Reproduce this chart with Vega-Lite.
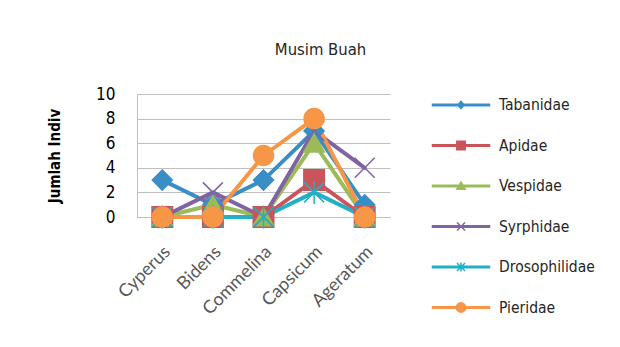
{
  "$schema": "https://vega.github.io/schema/vega-lite/v6.json",
  "width": 253,
  "height": 123,
  "autosize": {"type": "none"},
  "padding": {"left": 137, "top": 94, "right": 230, "bottom": 130},
  "background": "white",
  "config": {
    "view": {"stroke": null},
    "font": "DejaVu Sans Condensed, Roboto, sans-serif",
    "legend": {
      "title": null,
      "orient": "right",
      "offset": 60,
      "padding": 0,
      "symbolSize": 400,
      "symbolStrokeWidth": 1.5,
      "symbolOpacity": 1,
      "rowPadding": 20.5,
      "labelOffset": 27,
      "labelFont": "DejaVu Sans Condensed, Roboto, sans-serif",
      "labelFontSize": 15.5,
      "labelColor": "#262626"
    }
  },
  "title": {
    "text": "Musim Buah",
    "anchor": "middle",
    "frame": "group",
    "dx": 57,
    "offset": 27,
    "fontSize": 16.5,
    "fontWeight": "normal",
    "font": "DejaVu Sans Condensed, Roboto, sans-serif",
    "color": "#262626"
  },
  "data": {
    "values": [
      {"family": "Tabanidae", "plant": "Cyperus", "count": 3},
      {"family": "Tabanidae", "plant": "Bidens", "count": 1},
      {"family": "Tabanidae", "plant": "Commelina", "count": 3},
      {"family": "Tabanidae", "plant": "Capsicum", "count": 7},
      {"family": "Tabanidae", "plant": "Ageratum", "count": 1},
      {"family": "Apidae", "plant": "Cyperus", "count": 0},
      {"family": "Apidae", "plant": "Bidens", "count": 0},
      {"family": "Apidae", "plant": "Commelina", "count": 0},
      {"family": "Apidae", "plant": "Capsicum", "count": 3},
      {"family": "Apidae", "plant": "Ageratum", "count": 0},
      {"family": "Vespidae", "plant": "Cyperus", "count": 0},
      {"family": "Vespidae", "plant": "Bidens", "count": 1},
      {"family": "Vespidae", "plant": "Commelina", "count": 0},
      {"family": "Vespidae", "plant": "Capsicum", "count": 6},
      {"family": "Vespidae", "plant": "Ageratum", "count": 0},
      {"family": "Syrphidae", "plant": "Cyperus", "count": 0},
      {"family": "Syrphidae", "plant": "Bidens", "count": 2},
      {"family": "Syrphidae", "plant": "Commelina", "count": 0},
      {"family": "Syrphidae", "plant": "Capsicum", "count": 7},
      {"family": "Syrphidae", "plant": "Ageratum", "count": 4},
      {"family": "Drosophilidae", "plant": "Cyperus", "count": 0},
      {"family": "Drosophilidae", "plant": "Bidens", "count": 0},
      {"family": "Drosophilidae", "plant": "Commelina", "count": 0},
      {"family": "Drosophilidae", "plant": "Capsicum", "count": 2},
      {"family": "Drosophilidae", "plant": "Ageratum", "count": 0},
      {"family": "Pieridae", "plant": "Cyperus", "count": 0},
      {"family": "Pieridae", "plant": "Bidens", "count": 0},
      {"family": "Pieridae", "plant": "Commelina", "count": 5},
      {"family": "Pieridae", "plant": "Capsicum", "count": 8},
      {"family": "Pieridae", "plant": "Ageratum", "count": 0}
    ]
  },
  "encoding": {
    "x": {
      "field": "plant",
      "type": "nominal",
      "sort": ["Cyperus", "Bidens", "Commelina", "Capsicum", "Ageratum"],
      "axis": {
        "title": null,
        "labelAngle": -45,
        "labelAlign": "right",
        "labelBaseline": "middle",
        "labelFont": "Lato",
        "labelFontSize": 18,
        "labelColor": "#595959",
        "labelPadding": 32,
        "labelOffset": 5,
        "ticks": false,
        "grid": false,
        "domainColor": "#BFBFBF",
        "domainWidth": 1
      }
    },
    "y": {
      "field": "count",
      "type": "quantitative",
      "scale": {"domain": [0, 10], "nice": false},
      "axis": {
        "title": "Jumlah Indiv",
        "values": [0, 2, 4, 6, 8, 10],
        "ticks": false,
        "labelPadding": 22,
        "labelFont": "DejaVu Sans Condensed, Roboto, sans-serif",
        "labelFontSize": 17,
        "labelColor": "#000000",
        "gridColor": "#BFBFBF",
        "domainColor": "#BFBFBF",
        "titleFont": "DejaVu Sans Condensed, Roboto, sans-serif",
        "titleFontWeight": "bold",
        "titleFontSize": 15,
        "titleColor": "#000000",
        "titlePadding": 33
      }
    },
    "stroke": {
      "field": "family",
      "type": "nominal",
      "scale": {
        "domain": ["Tabanidae", "Apidae", "Vespidae", "Syrphidae", "Drosophilidae", "Pieridae"],
        "range": ["#3a8ec6", "#c9555a", "#9bbb59", "#8064a2", "#23afc6", "#f79646"]
      }
    }
  },
  "layer": [
    {
      "mark": {"type": "line", "strokeWidth": 4, "strokeJoin": "round", "strokeCap": "round"}
    },
    {
      "transform": [{"filter": "datum.family === 'Tabanidae'"}],
      "mark": {"type": "point", "shape": "diamond", "opacity": 1, "strokeWidth": 1.5, "size": 400},
      "encoding": {
        "fill": {
          "field": "family",
          "type": "nominal",
          "scale": {
            "domain": ["Tabanidae", "Apidae", "Vespidae", "Syrphidae", "Drosophilidae", "Pieridae"],
            "range": ["#3a8ec6", "#c9555a", "#9bbb59", "transparent", "transparent", "#f79646"]
          }
        }
      }
    },
    {
      "transform": [{"filter": "datum.family === 'Apidae'"}],
      "mark": {"type": "point", "shape": "square", "opacity": 1, "strokeWidth": 1.5, "size": 420},
      "encoding": {"fill": {"field": "family", "type": "nominal"}}
    },
    {
      "transform": [{"filter": "datum.family === 'Vespidae'"}],
      "mark": {"type": "point", "shape": "triangle-up", "opacity": 1, "strokeWidth": 1.5, "size": 420},
      "encoding": {"fill": {"field": "family", "type": "nominal"}}
    },
    {
      "transform": [{"filter": "datum.family === 'Syrphidae'"}],
      "mark": {"type": "point", "shape": "M-1,-1L1,1M-1,1L1,-1", "opacity": 1, "strokeWidth": 1.5, "size": 400},
      "encoding": {"fill": {"field": "family", "type": "nominal"}}
    },
    {
      "transform": [{"filter": "datum.family === 'Drosophilidae'"}],
      "mark": {"type": "point", "shape": "M-1,-1L1,1M-1,1L1,-1M0,-1.15V1.15", "opacity": 1, "strokeWidth": 1.5, "size": 400},
      "encoding": {"fill": {"field": "family", "type": "nominal"}}
    },
    {
      "transform": [{"filter": "datum.family === 'Pieridae'"}],
      "mark": {"type": "point", "shape": "circle", "opacity": 1, "strokeWidth": 1.5, "size": 400},
      "encoding": {"fill": {"field": "family", "type": "nominal"}}
    },
    {
      "mark": {"type": "point", "opacity": 0, "strokeWidth": 1.5, "size": 400},
      "encoding": {
        "fill": {"field": "family", "type": "nominal"},
        "shape": {
          "field": "family",
          "type": "nominal",
          "scale": {
            "domain": ["Tabanidae", "Apidae", "Vespidae", "Syrphidae", "Drosophilidae", "Pieridae"],
            "range": [
              "M-2.85,-0.075H2.85V0.075H-2.85ZM-0.32,0L0,-0.36L0.32,0L0,0.36Z",
              "M-2.85,-0.075H2.85V0.075H-2.85ZM-0.42,-0.42H0.42V0.42H-0.42Z",
              "M-2.85,-0.075H2.85V0.075H-2.85ZM0,-0.4L0.42,0.32H-0.42Z",
              "M-2.85,-0.075H2.85V0.075H-2.85ZM-0.4,-0.4L0.4,0.4M-0.4,0.4L0.4,-0.4",
              "M-2.85,-0.075H2.85V0.075H-2.85ZM-0.4,-0.4L0.4,0.4M-0.4,0.4L0.4,-0.4M0,-0.45V0.45",
              "M-2.85,-0.075H2.85V0.075H-2.85ZM-0.47,0A0.47,0.47 0 1,1 0.47,0A0.47,0.47 0 1,1 -0.47,0Z"
            ]
          }
        }
      }
    }
  ]
}
